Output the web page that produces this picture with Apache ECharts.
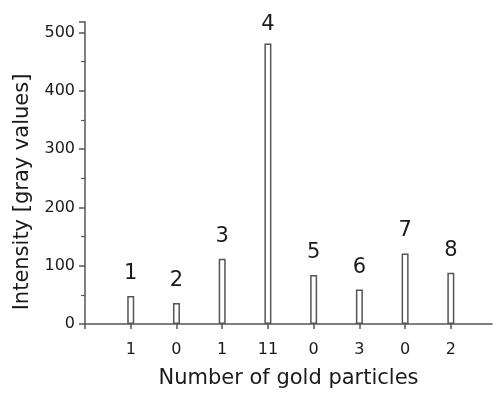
<!DOCTYPE html>
<html>
<head>
<meta charset="utf-8">
<script src="https://cdn.jsdelivr.net/npm/echarts@6/dist/echarts.min.js"></script>
<style>
  html, body { margin: 0; padding: 0; background: #fff; }
  #chart { width: 493px; height: 394px; }
</style>
</head>
<body>
<div id="chart"></div>
<script>
// Spot numbers shown above each bar
const spots = ['1', '2', '3', '4', '5', '6', '7', '8'];
// Gold particle counts shown under each bar
const particleCounts = ['1', '0', '1', '11', '0', '3', '0', '2'];
// Measured intensity per spot (gray values)
const intensities = [48, 36, 112, 481, 84, 59, 121, 88];

const FONT = '"DejaVu Sans", "Liberation Sans", Arial, sans-serif';
const INK = '#1a1a1a';
const AXIS = '#555';

const chart = echarts.init(document.getElementById('chart'), null, { renderer: 'canvas' });

const barData = intensities.map(function (v, i) {
  const item = { value: [i + 1, v] };
  // the tallest bar sits close to the top edge, so its number hugs it a bit tighter
  if (v === Math.max.apply(null, intensities)) item.label = { distance: 9 };
  return item;
});

chart.setOption({
  animation: false,
  backgroundColor: '#fff',
  grid: { left: 85, right: 1, top: 22, bottom: 64, containLabel: false },
  xAxis: {
    type: 'value',
    min: 0,
    max: 8.9,
    interval: 1,
    name: 'Number of gold particles',
    nameLocation: 'middle',
    nameGap: 44,
    nameTextStyle: { fontFamily: FONT, fontSize: 21, color: INK },
    axisLine: { show: true, lineStyle: { color: AXIS, width: 1.5 } },
    axisTick: {
      show: true, inside: false, length: 5,
      lineStyle: { color: AXIS, width: 1.5 },
      interval: function (v) { return v >= 1 && v <= spots.length; }
    },
    axisLabel: {
      margin: 18,
      fontFamily: FONT, fontSize: 16, color: INK,
      showMinLabel: true, showMaxLabel: false,
      formatter: function (v) {
        const i = Math.round(v) - 1;
        return (i >= 0 && i < particleCounts.length && Math.abs(v - Math.round(v)) < 1e-6) ? particleCounts[i] : '';
      }
    },
    splitLine: { show: false }
  },
  yAxis: {
    type: 'value',
    min: 0,
    max: 518,
    interval: 100,
    name: 'Intensity [gray values]',
    nameLocation: 'middle',
    nameGap: 52,
    nameTextStyle: { fontFamily: FONT, fontSize: 21, color: INK, padding: [0, 38, 0, 0] },
    axisLine: { show: true, lineStyle: { color: AXIS, width: 1.5 } },
    axisTick: { show: true, inside: false, length: 6, lineStyle: { color: AXIS, width: 1.5 } },
    minorTick: { show: true, splitNumber: 2, length: 4, lineStyle: { color: AXIS, width: 1.2 } },
    axisLabel: { margin: 10, fontFamily: FONT, fontSize: 16, color: INK, showMaxLabel: false },
    splitLine: { show: false }
  },
  series: [{
    type: 'bar',
    barWidth: 7,
    data: barData,
    itemStyle: { color: '#fff', borderColor: '#555', borderWidth: 1.5 },
    label: {
      show: true,
      position: 'top',
      distance: 12,
      fontFamily: FONT,
      fontSize: 21,
      color: INK,
      formatter: function (p) { return spots[p.dataIndex]; }
    }
  }]
});
</script>
</body>
</html>
